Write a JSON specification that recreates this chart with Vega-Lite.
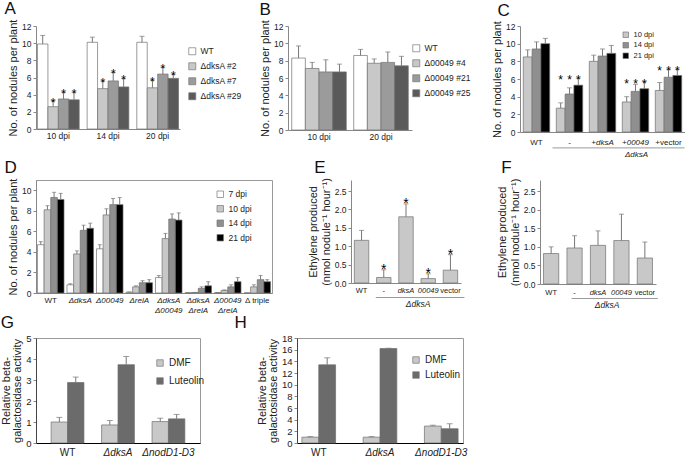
{
"$schema": "https://vega.github.io/schema/vega-lite/v6.json",
"padding": {"left": 0, "top": 0, "right": 0, "bottom": 0},
"bounds": "flush",
"spacing": 154,
"resolve": {"scale": {"fill": "independent", "xOffset": "independent"}, "legend": {"fill": "independent"}},
"config": {
  "font": "Liberation Sans",
  "view": {"stroke": null},
  "axis": {"grid": false, "labelFontSize": 8.5, "labelColor": "#222", "titleFontSize": 11, "titleFontWeight": "normal", "titleColor": "#222", "domainColor": "#888", "tickColor": "#888", "tickSize": 3, "labelPadding": 2, "titlePadding": 3, "labelOverlap": false},
  "axisX": {"labelAngle": 0, "ticks": false},
  "title": {"fontSize": 17, "fontWeight": "normal", "anchor": "start", "frame": "bounds", "offset": 1, "color": "#111"},
  "legend": {"symbolType": "square", "symbolSize": 49, "labelFontSize": 8.5, "labelColor": "#222", "title": null, "symbolStrokeColor": "#777", "symbolStrokeWidth": 0.8, "orient": "none", "padding": 0},
  "bar": {"stroke": "#707070", "strokeWidth": 0.7},
  "rule": {"color": "#777"},
  "tick": {"color": "#777", "thickness": 1}
},
"datasets": {
  "A": [
    {"g":"10 dpi","s":"WT","v":9.9,"e":10.9,"st":""},
    {"g":"10 dpi","s":"ΔdksA #2","v":2.6,"e":3.3,"st":"*"},
    {"g":"10 dpi","s":"ΔdksA #7","v":3.5,"e":4.3,"st":"*"},
    {"g":"10 dpi","s":"ΔdksA #29","v":3.4,"e":4.3,"st":"*"},
    {"g":"14 dpi","s":"WT","v":10.1,"e":10.7,"st":""},
    {"g":"14 dpi","s":"ΔdksA #2","v":4.7,"e":5.6,"st":"*"},
    {"g":"14 dpi","s":"ΔdksA #7","v":5.6,"e":6.6,"st":"*"},
    {"g":"14 dpi","s":"ΔdksA #29","v":4.9,"e":5.9,"st":"*"},
    {"g":"20 dpi","s":"WT","v":10.1,"e":10.8,"st":""},
    {"g":"20 dpi","s":"ΔdksA #2","v":4.8,"e":5.7,"st":"*"},
    {"g":"20 dpi","s":"ΔdksA #7","v":6.4,"e":7.2,"st":"*"},
    {"g":"20 dpi","s":"ΔdksA #29","v":5.9,"e":6.4,"st":"*"}
  ],
  "B": [
    {"g":"10 dpi","s":"WT","v":8.3,"e":9.7},
    {"g":"10 dpi","s":"Δ00049 #4","v":7.1,"e":7.8},
    {"g":"10 dpi","s":"Δ00049 #21","v":6.7,"e":8.1},
    {"g":"10 dpi","s":"Δ00049 #25","v":6.7,"e":7.6},
    {"g":"20 dpi","s":"WT","v":8.6,"e":9.3},
    {"g":"20 dpi","s":"Δ00049 #4","v":7.7,"e":8.2},
    {"g":"20 dpi","s":"Δ00049 #21","v":7.8,"e":9.0},
    {"g":"20 dpi","s":"Δ00049 #25","v":7.4,"e":8.5}
  ],
  "C": [
    {"g":"WT","s":"10 dpi","v":8.5,"e":9.3,"st":""},
    {"g":"WT","s":"14 dpi","v":9.4,"e":10.2,"st":""},
    {"g":"WT","s":"21 dpi","v":10.0,"e":10.6,"st":""},
    {"g":"-","s":"10 dpi","v":2.7,"e":3.3,"st":"*"},
    {"g":"-","s":"14 dpi","v":4.3,"e":5.0,"st":"*"},
    {"g":"-","s":"21 dpi","v":5.3,"e":6.1,"st":"*"},
    {"g":"+dksA","s":"10 dpi","v":8.0,"e":8.7,"st":""},
    {"g":"+dksA","s":"14 dpi","v":8.6,"e":9.4,"st":""},
    {"g":"+dksA","s":"21 dpi","v":8.9,"e":9.8,"st":""},
    {"g":"+00049","s":"10 dpi","v":3.4,"e":4.0,"st":"*"},
    {"g":"+00049","s":"14 dpi","v":4.6,"e":5.4,"st":"*"},
    {"g":"+00049","s":"21 dpi","v":4.9,"e":5.7,"st":"*"},
    {"g":"+vector","s":"10 dpi","v":4.7,"e":5.6,"st":"*"},
    {"g":"+vector","s":"14 dpi","v":6.2,"e":7.1,"st":"*"},
    {"g":"+vector","s":"21 dpi","v":6.4,"e":7.1,"st":"*"}
  ],
  "D": [
    {"g":"WT","s":"7 dpi","v":4.7,"e":5.0},
    {"g":"WT","s":"10 dpi","v":8.1,"e":8.5},
    {"g":"WT","s":"14 dpi","v":9.3,"e":9.8},
    {"g":"WT","s":"21 dpi","v":9.1,"e":9.7},
    {"g":"ΔdksA","s":"7 dpi","v":0.8,"e":0.9},
    {"g":"ΔdksA","s":"10 dpi","v":3.8,"e":4.1},
    {"g":"ΔdksA","s":"14 dpi","v":6.1,"e":6.6},
    {"g":"ΔdksA","s":"21 dpi","v":6.3,"e":6.8},
    {"g":"Δ00049","s":"7 dpi","v":4.3,"e":4.7},
    {"g":"Δ00049","s":"10 dpi","v":7.6,"e":8.2},
    {"g":"Δ00049","s":"14 dpi","v":8.6,"e":9.2},
    {"g":"Δ00049","s":"21 dpi","v":8.6,"e":9.3},
    {"g":"ΔrelA","s":"7 dpi","v":0.08,"e":0.1},
    {"g":"ΔrelA","s":"10 dpi","v":0.6,"e":0.7},
    {"g":"ΔrelA","s":"14 dpi","v":1.0,"e":1.2},
    {"g":"ΔrelA","s":"21 dpi","v":1.0,"e":1.3},
    {"g":"ΔdksA|Δ00049","s":"7 dpi","v":1.5,"e":1.7},
    {"g":"ΔdksA|Δ00049","s":"10 dpi","v":5.3,"e":5.8},
    {"g":"ΔdksA|Δ00049","s":"14 dpi","v":7.2,"e":7.7},
    {"g":"ΔdksA|Δ00049","s":"21 dpi","v":7.1,"e":7.8},
    {"g":"ΔdksA|ΔrelA","s":"7 dpi","v":0.02,"e":0.03},
    {"g":"ΔdksA|ΔrelA","s":"10 dpi","v":0.05,"e":0.06},
    {"g":"ΔdksA|ΔrelA","s":"14 dpi","v":0.45,"e":0.6},
    {"g":"ΔdksA|ΔrelA","s":"21 dpi","v":0.7,"e":1.1},
    {"g":"Δ00049|ΔrelA","s":"7 dpi","v":0.03,"e":0.04},
    {"g":"Δ00049|ΔrelA","s":"10 dpi","v":0.25,"e":0.3},
    {"g":"Δ00049|ΔrelA","s":"14 dpi","v":0.6,"e":0.8},
    {"g":"Δ00049|ΔrelA","s":"21 dpi","v":1.1,"e":1.5},
    {"g":"Δ triple","s":"7 dpi","v":0.0,"e":0.0},
    {"g":"Δ triple","s":"10 dpi","v":0.6,"e":0.8},
    {"g":"Δ triple","s":"14 dpi","v":1.3,"e":1.7},
    {"g":"Δ triple","s":"21 dpi","v":1.1,"e":1.3}
  ],
  "E": [
    {"g":"WT","v":1.16,"e":1.43,"st":""},
    {"g":"-","v":0.15,"e":0.36,"st":"*"},
    {"g":"dksA","v":1.8,"e":2.15,"st":"*"},
    {"g":"00049","v":0.12,"e":0.25,"st":"*"},
    {"g":"vector","v":0.35,"e":0.77,"st":"*"}
  ],
  "F": [
    {"g":"WT","v":0.82,"e":1.0},
    {"g":"-","v":0.97,"e":1.3},
    {"g":"dksA","v":1.04,"e":1.43},
    {"g":"00049","v":1.17,"e":1.88},
    {"g":"vector","v":0.7,"e":1.13}
  ],
  "G": [
    {"g":"WT","s":"DMF","v":1.0,"e":1.22},
    {"g":"WT","s":"Luteolin","v":2.88,"e":3.14},
    {"g":"ΔdksA","s":"DMF","v":0.86,"e":1.07},
    {"g":"ΔdksA","s":"Luteolin","v":3.73,"e":4.12},
    {"g":"ΔnodD1-D3","s":"DMF","v":1.02,"e":1.18},
    {"g":"ΔnodD1-D3","s":"Luteolin","v":1.15,"e":1.36}
  ],
  "H": [
    {"g":"WT","s":"DMF","v":1.0,"e":1.1},
    {"g":"WT","s":"Luteolin","v":13.4,"e":14.6},
    {"g":"ΔdksA","s":"DMF","v":1.0,"e":1.1},
    {"g":"ΔdksA","s":"Luteolin","v":16.2,"e":16.25},
    {"g":"ΔnodD1-D3","s":"DMF","v":2.9,"e":3.05},
    {"g":"ΔnodD1-D3","s":"Luteolin","v":2.45,"e":3.3}
  ]
},
"vconcat": [
 {"bounds": "flush", "spacing": 108,
  "resolve": {"scale": {"fill": "independent", "xOffset": "independent"}, "legend": {"fill": "independent"}},
  "hconcat": [
  {
   "title": {"text": "A", "dx": -3},
   "width": 144, "height": 103,
   "data": {"name": "A"},
   "encoding": {
     "x": {"field": "g", "type": "nominal", "title": null, "scale": {"domain": ["10 dpi","14 dpi","20 dpi"], "paddingInner": 0.16, "paddingOuter": 0.03}, "axis": {"labelPadding": 2}},
     "xOffset": {"field": "s", "type": "nominal", "scale": {"domain": ["WT","ΔdksA #2","ΔdksA #7","ΔdksA #29"], "paddingInner": 0}}
   },
   "layer": [
     {"mark": "bar", "encoding": {
        "y": {"field": "v", "type": "quantitative", "title": "No. of nodules per plant", "scale": {"domain": [0, 12]}, "axis": {"values": [0,2,4,6,8,10,12], "tickCount": 20, "format": "d", "labelOverlap": false}},
        "fill": {"field": "s", "type": "nominal", "scale": {"domain": ["WT","ΔdksA #2","ΔdksA #7","ΔdksA #29"], "range": ["#ffffff","#c8c8c8","#9b9b9b","#5a5a5a"]},
                 "legend": {"legendX": 152, "legendY": 21, "rowPadding": 4, "encoding": {"labels": {"fontStyle": {"signal": "datum.value == 'WT' ? 'normal' : 'italic'"}}}}}}},
     {"mark": "rule", "encoding": {"y": {"field": "v", "type": "quantitative", "title": "No. of nodules per plant"}, "y2": {"field": "e"}}},
     {"mark": {"type": "tick", "size": 5}, "encoding": {"y": {"field": "e", "type": "quantitative", "title": "No. of nodules per plant"}}},
     {"mark": {"type": "text", "fontSize": 12, "dy": 2, "color": "#000"}, "encoding": {"y": {"field": "e", "type": "quantitative", "title": "No. of nodules per plant"}, "text": {"field": "st"}}}
   ]
  },
  {
   "title": {"text": "B"},
   "width": 124, "height": 104,
   "data": {"name": "B"},
   "encoding": {
     "x": {"field": "g", "type": "nominal", "title": null, "scale": {"domain": ["10 dpi","20 dpi"], "paddingInner": 0.12, "paddingOuter": 0.06}, "axis": {"labelPadding": 2}},
     "xOffset": {"field": "s", "type": "nominal", "scale": {"domain": ["WT","Δ00049 #4","Δ00049 #21","Δ00049 #25"], "paddingInner": 0}}
   },
   "layer": [
     {"mark": "bar", "encoding": {
        "y": {"field": "v", "type": "quantitative", "title": "No. of nodules per plant", "scale": {"domain": [0, 12]}, "axis": {"values": [0,2,4,6,8,10,12], "tickCount": 20, "format": "d", "labelOverlap": false}},
        "fill": {"field": "s", "type": "nominal", "scale": {"domain": ["WT","Δ00049 #4","Δ00049 #21","Δ00049 #25"], "range": ["#ffffff","#c8c8c8","#9b9b9b","#5a5a5a"]},
                 "legend": {"legendX": 124, "legendY": 18, "rowPadding": 4, "encoding": {"labels": {"fontStyle": {"signal": "datum.value == 'WT' ? 'normal' : 'italic'"}}}}}}},
     {"mark": "rule", "encoding": {"y": {"field": "v", "type": "quantitative", "title": "No. of nodules per plant"}, "y2": {"field": "e"}}},
     {"mark": {"type": "tick", "size": 5}, "encoding": {"y": {"field": "e", "type": "quantitative", "title": "No. of nodules per plant"}}}
   ]
  },
  {
   "title": {"text": "C", "dx": 6},
   "width": 165, "height": 106,
   "data": {"name": "C"},
   "encoding": {
     "x": {"field": "g", "type": "nominal", "title": null, "scale": {"domain": ["WT","-","+dksA","+00049","+vector"], "paddingInner": 0.2, "paddingOuter": 0.1},
           "axis": {"labelPadding": 6, "labelFontSize": 8, "labelFontStyle": {"condition": {"test": "datum.value == '+dksA' || datum.value == '+00049'", "value": "italic"}, "value": "normal"}}}
   },
   "layer": [
     {"mark": "bar", "encoding": {
        "xOffset": {"field": "s", "type": "nominal", "scale": {"domain": ["10 dpi","14 dpi","21 dpi"], "paddingInner": 0}},
        "y": {"field": "v", "type": "quantitative", "title": "No. of nodules per plant", "scale": {"domain": [0, 12]}, "axis": {"values": [0,2,4,6,8,10,12], "tickCount": 20, "format": "d", "labelOverlap": false}},
        "fill": {"field": "s", "type": "nominal", "scale": {"domain": ["10 dpi","14 dpi","21 dpi"], "range": ["#c8c8c8","#8f8f8f","#000000"]},
                 "legend": {"legendX": 102, "legendY": 5, "rowPadding": 1.5, "symbolSize": 30, "labelFontSize": 7.5}}}},
     {"mark": "rule", "encoding": {"xOffset": {"field": "s", "type": "nominal"}, "y": {"field": "v", "type": "quantitative", "title": "No. of nodules per plant"}, "y2": {"field": "e"}}},
     {"mark": {"type": "tick", "size": 5}, "encoding": {"xOffset": {"field": "s", "type": "nominal"}, "y": {"field": "e", "type": "quantitative", "title": "No. of nodules per plant"}}},
     {"transform": [{"joinaggregate": [{"op": "max", "field": "e", "as": "m"}], "groupby": ["g"]}],
      "mark": {"type": "text", "fontSize": 12, "dy": 2, "color": "#000"},
      "encoding": {"xOffset": {"field": "s", "type": "nominal"}, "y": {"field": "m", "type": "quantitative", "title": "No. of nodules per plant"}, "text": {"field": "st"}}},
     {"data": {"values": [{}]}, "mark": {"type": "rule", "color": "#999", "xOffset": -17, "x2Offset": 16},
      "encoding": {"x": {"datum": "-", "type": "nominal"}, "x2": {"datum": "+vector"}, "y": {"datum": -1.8, "type": "quantitative"}}},
     {"data": {"values": [{}]}, "mark": {"type": "text", "text": "ΔdksA", "fontSize": 8, "fontStyle": "italic", "baseline": "middle", "dx": 1, "color": "#222"},
      "encoding": {"x": {"datum": "+00049", "type": "nominal"}, "y": {"datum": -2.55, "type": "quantitative"}}}
   ]
  }
 ]},
 {"bounds": "flush", "spacing": 158,
  "resolve": {"scale": {"fill": "independent", "xOffset": "independent"}, "legend": {"fill": "independent"}},
  "vconcat": [
  {"bounds": "flush", "spacing": 79,
   "resolve": {"scale": {"fill": "independent", "xOffset": "independent"}, "legend": {"fill": "independent"}},
   "hconcat": [
   {
    "title": {"text": "D", "dx": -3},
    "width": 236, "height": 113,
    "view": {"stroke": "#999"},
    "data": {"name": "D"},
    "encoding": {
      "x": {"field": "g", "type": "nominal", "title": null, "scale": {"domain": ["WT","ΔdksA","Δ00049","ΔrelA","ΔdksA|Δ00049","ΔdksA|ΔrelA","Δ00049|ΔrelA","Δ triple"], "paddingInner": 0.1, "paddingOuter": 0.05},
            "axis": {"labelPadding": 3, "labelFontSize": 8, "labelLineHeight": 10.5, "labelExpr": "split(datum.label, '|')", "labelFontStyle": {"condition": {"test": "datum.value == 'WT' || datum.value == 'Δ triple'", "value": "normal"}, "value": "italic"}}},
      "xOffset": {"field": "s", "type": "nominal", "scale": {"domain": ["7 dpi","10 dpi","14 dpi","21 dpi"], "paddingInner": 0}}
    },
    "layer": [
      {"mark": "bar", "encoding": {
         "y": {"field": "v", "type": "quantitative", "title": "No. of nodules per plant", "scale": {"domain": [0, 11]}, "axis": {"values": [0,2,4,6,8,10], "tickCount": 20, "format": "d", "labelOverlap": false}},
         "fill": {"field": "s", "type": "nominal", "scale": {"domain": ["7 dpi","10 dpi","14 dpi","21 dpi"], "range": ["#ffffff","#c8c8c8","#8f8f8f","#000000"]},
                  "legend": {"legendX": 180, "legendY": 10, "rowPadding": 4.5, "symbolSize": 42}}}},
      {"mark": "rule", "encoding": {"y": {"field": "v", "type": "quantitative", "title": "No. of nodules per plant"}, "y2": {"field": "e"}}},
      {"mark": {"type": "tick", "size": 4}, "encoding": {"y": {"field": "e", "type": "quantitative", "title": "No. of nodules per plant"}}}
    ]
   },
   {
    "title": {"text": "E", "dx": 7},
    "width": 110, "height": 103,
    "data": {"name": "E"},
    "encoding": {
      "x": {"field": "g", "type": "nominal", "title": null, "scale": {"domain": ["WT","-","dksA","00049","vector"], "paddingInner": 0.35, "paddingOuter": 0.15},
            "axis": {"labelPadding": 3, "labelFontSize": 7.5, "labelFontStyle": {"condition": {"test": "datum.value == 'dksA' || datum.value == '00049'", "value": "italic"}, "value": "normal"}}}
    },
    "layer": [
      {"mark": {"type": "bar", "fill": "#c8c8c8"}, "encoding": {
         "y": {"field": "v", "type": "quantitative", "title": ["Ethylene produced", "(nmol nodule⁻¹ hour⁻¹)"], "scale": {"domain": [0, 2.71]}, "axis": {"values": [0,0.5,1,1.5,2,2.5], "tickCount": 20, "format": ".1f", "titleLineHeight": 13, "labelOverlap": false}}}},
      {"mark": "rule", "encoding": {"y": {"field": "v", "type": "quantitative", "title": ["Ethylene produced", "(nmol nodule⁻¹ hour⁻¹)"]}, "y2": {"field": "e"}}},
      {"mark": {"type": "tick", "size": 5}, "encoding": {"y": {"field": "e", "type": "quantitative", "title": ["Ethylene produced", "(nmol nodule⁻¹ hour⁻¹)"]}}},
      {"mark": {"type": "text", "fontSize": 14, "dy": 0, "color": "#000"}, "encoding": {"y": {"field": "e", "type": "quantitative", "title": ["Ethylene produced", "(nmol nodule⁻¹ hour⁻¹)"]}, "text": {"field": "st"}}},
      {"data": {"values": [{}]}, "mark": {"type": "rule", "color": "#999", "xOffset": -8, "x2Offset": 14},
       "encoding": {"x": {"datum": "-", "type": "nominal"}, "x2": {"datum": "vector"}, "y": {"datum": -0.395, "type": "quantitative"}}},
      {"data": {"values": [{}]}, "mark": {"type": "text", "text": "ΔdksA", "fontSize": 8.5, "fontStyle": "italic", "baseline": "middle", "dx": 12, "color": "#222"},
       "encoding": {"x": {"datum": "dksA", "type": "nominal"}, "y": {"datum": -0.56, "type": "quantitative"}}}
    ]
   },
   {
    "title": {"text": "F", "dx": 5},
    "width": 116, "height": 104,
    "data": {"name": "F"},
    "encoding": {
      "x": {"field": "g", "type": "nominal", "title": null, "scale": {"domain": ["WT","-","dksA","00049","vector"], "paddingInner": 0.35, "paddingOuter": 0.15},
            "axis": {"labelPadding": 4, "labelFontSize": 7.5, "labelFontStyle": {"condition": {"test": "datum.value == 'dksA' || datum.value == '00049'", "value": "italic"}, "value": "normal"}}}
    },
    "layer": [
      {"mark": {"type": "bar", "fill": "#c8c8c8"}, "encoding": {
         "y": {"field": "v", "type": "quantitative", "title": ["Ethylene produced", "(nmol nodule⁻¹ hour⁻¹)"], "scale": {"domain": [0, 2.708]}, "axis": {"values": [0,0.5,1,1.5,2,2.5], "tickCount": 20, "format": ".1f", "titleLineHeight": 13, "labelOverlap": false}}}},
      {"mark": "rule", "encoding": {"y": {"field": "v", "type": "quantitative", "title": ["Ethylene produced", "(nmol nodule⁻¹ hour⁻¹)"]}, "y2": {"field": "e"}}},
      {"mark": {"type": "tick", "size": 5}, "encoding": {"y": {"field": "e", "type": "quantitative", "title": ["Ethylene produced", "(nmol nodule⁻¹ hour⁻¹)"]}}},
      {"data": {"values": [{}]}, "mark": {"type": "rule", "color": "#999", "xOffset": -3, "x2Offset": 13},
       "encoding": {"x": {"datum": "-", "type": "nominal"}, "x2": {"datum": "vector"}, "y": {"datum": -0.39, "type": "quantitative"}}},
      {"data": {"values": [{}]}, "mark": {"type": "text", "text": "ΔdksA", "fontSize": 8.5, "fontStyle": "italic", "baseline": "middle", "dx": 9, "color": "#222"},
       "encoding": {"x": {"datum": "dksA", "type": "nominal"}, "y": {"datum": -0.56, "type": "quantitative"}}}
    ]
   }
  ]},
  {"bounds": "flush", "spacing": 97,
   "resolve": {"scale": {"fill": "independent", "xOffset": "independent"}, "legend": {"fill": "independent"}},
   "hconcat": [
   {
    "title": {"text": "G"},
    "width": 164, "height": 105,
    "view": {"stroke": "#999"},
    "data": {"name": "G"},
    "encoding": {
      "x": {"field": "g", "type": "nominal", "title": null, "scale": {"domain": ["WT","ΔdksA","ΔnodD1-D3"], "paddingInner": 0.35, "paddingOuter": 0.3},
            "axis": {"labelPadding": 4, "labelFontSize": 10, "domainColor": "#000", "domainWidth": 1.2, "labelFontStyle": {"condition": {"test": "datum.value == 'WT'", "value": "normal"}, "value": "italic"}}},
      "xOffset": {"field": "s", "type": "nominal", "scale": {"domain": ["DMF","Luteolin"], "paddingInner": 0}}
    },
    "layer": [
      {"mark": "bar", "encoding": {
         "y": {"field": "v", "type": "quantitative", "title": ["Relative beta-", "galactosidase activity"], "scale": {"domain": [0, 5]}, "axis": {"values": [0,1,2,3,4,5], "tickCount": 20, "format": "d", "labelFontSize": 9.5, "domainColor": "#444", "titleFontSize": 11, "titleLineHeight": 11, "labelOverlap": false}},
         "fill": {"field": "s", "type": "nominal", "scale": {"domain": ["DMF","Luteolin"], "range": ["#c8c8c8","#6b6b6b"]},
                  "legend": {"legendX": 119, "legendY": 20, "rowPadding": 8, "symbolSize": 42, "labelFontSize": 10}}}},
      {"mark": "rule", "encoding": {"y": {"field": "v", "type": "quantitative", "title": ["Relative beta-", "galactosidase activity"]}, "y2": {"field": "e"}}},
      {"mark": {"type": "tick", "size": 6}, "encoding": {"y": {"field": "e", "type": "quantitative", "title": ["Relative beta-", "galactosidase activity"]}}}
    ]
   },
   {
    "title": {"text": "H", "dx": -22},
    "width": 166, "height": 105,
    "view": {"stroke": "#999"},
    "data": {"name": "H"},
    "encoding": {
      "x": {"field": "g", "type": "nominal", "title": null, "scale": {"domain": ["WT","ΔdksA","ΔnodD1-D3"], "paddingInner": 0.45, "paddingOuter": 0.08},
            "axis": {"labelPadding": 4, "labelFontSize": 10, "domainColor": "#000", "domainWidth": 1.2, "labelFontStyle": {"condition": {"test": "datum.value == 'WT'", "value": "normal"}, "value": "italic"}}},
      "xOffset": {"field": "s", "type": "nominal", "scale": {"domain": ["DMF","Luteolin"], "paddingInner": 0}}
    },
    "layer": [
      {"mark": "bar", "encoding": {
         "y": {"field": "v", "type": "quantitative", "title": ["Relative beta-", "galactosidase activity"], "scale": {"domain": [0, 18]}, "axis": {"values": [0,2,4,6,8,10,12,14,16,18], "tickCount": 20, "format": "d", "labelFontSize": 9.5, "domainColor": "#444", "titleFontSize": 11, "titleLineHeight": 11, "labelOverlap": false}},
         "fill": {"field": "s", "type": "nominal", "scale": {"domain": ["DMF","Luteolin"], "range": ["#c8c8c8","#6b6b6b"]},
                  "legend": {"legendX": 114, "legendY": 17, "rowPadding": 5, "symbolSize": 42, "labelFontSize": 10}}}},
      {"mark": "rule", "encoding": {"y": {"field": "v", "type": "quantitative", "title": ["Relative beta-", "galactosidase activity"]}, "y2": {"field": "e"}}},
      {"mark": {"type": "tick", "size": 6}, "encoding": {"y": {"field": "e", "type": "quantitative", "title": ["Relative beta-", "galactosidase activity"]}}}
    ]
   }
  ]}
 ]}
]
}
